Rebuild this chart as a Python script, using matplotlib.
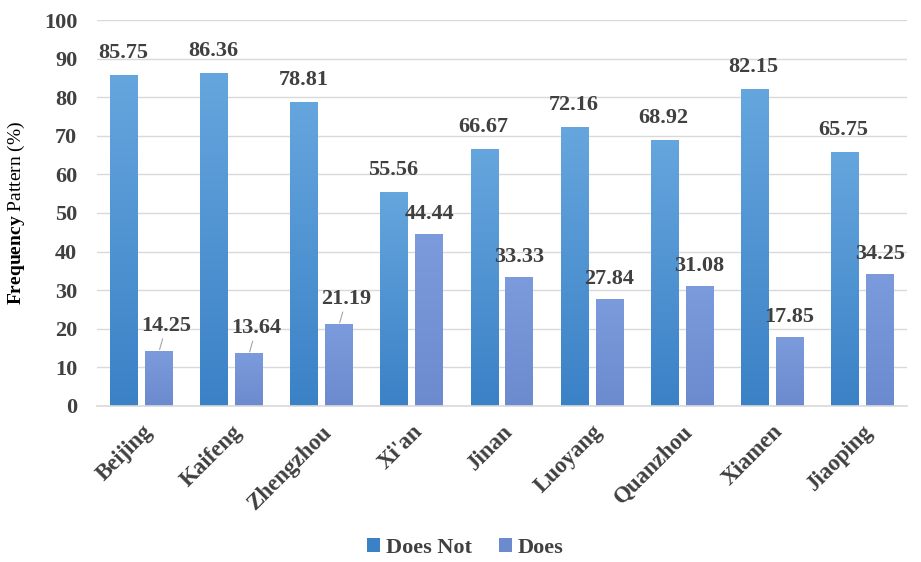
import matplotlib as mpl
import numpy as np

mpl.use("Agg")
import matplotlib.pyplot as plt  # noqa: E402
from matplotlib.colors import LinearSegmentedColormap  # noqa: E402

cities = ["Beijing", "Kaifeng", "Zhengzhou", "Xi'an", "Jinan",
          "Luoyang", "Quanzhou", "Xiamen", "Jiaoping"]
does_not = [85.75, 86.36, 78.81, 55.56, 66.67, 72.16, 68.92, 82.15, 65.75]
does = [14.25, 13.64, 21.19, 44.44, 33.33, 27.84, 31.08, 17.85, 34.25]
# labels of these "Does" bars sit off to the side with a short leader line
leader = [True, True, True, False, False, False, False, False, False]

INK = "#404040"
GRID = "#d9d9d9"
BLUE_TOP = "#66a6de"
BLUE_BOT = "#3b81c6"
LAV_TOP = "#7b9bdc"
LAV_BOT = "#6c8bcf"
FONT = "Liberation Serif"

plt.rcParams.update({
    "font.family": FONT,
    "font.weight": "bold",
    "mathtext.fontset": "custom",
    "mathtext.rm": FONT,
    "mathtext.bf": FONT + ":bold",
})

DPI = 100
PX = 72 / DPI  # points per pixel


def gradient_fill(ax, bars, top, bottom):
    cmap = LinearSegmentedColormap.from_list("g", [bottom, top])
    grad = np.linspace(0, 1, 256).reshape(-1, 1)
    for b in bars:
        x0, w, h = b.get_x(), b.get_width(), b.get_height()
        im = ax.imshow(grad, extent=[x0, x0 + w, 0, h], origin="lower",
                       cmap=cmap, aspect="auto", zorder=b.get_zorder() + 0.1)
        im.set_clip_path(b)


fig = plt.figure(figsize=(9.21, 5.62), dpi=DPI)
ax = fig.add_axes([0.105, 0.2776, 0.88, 0.6868])

x = np.arange(len(cities))
w = 0.31
gap = 0.078
b1 = ax.bar(x - (w + gap) / 2, does_not, w, color=BLUE_BOT, zorder=2,
            label="Does Not")
b2 = ax.bar(x + (w + gap) / 2, does, w, color=LAV_BOT, zorder=2,
            label="Does")
gradient_fill(ax, b1, BLUE_TOP, BLUE_BOT)
gradient_fill(ax, b2, LAV_TOP, LAV_BOT)

lab_kw = dict(textcoords="offset points", ha="center", va="bottom",
              fontsize=16, fontweight="bold", family=FONT, color=INK,
              zorder=5)
for b, v in zip(b1, does_not):
    ax.annotate(f"{v:.2f}", (b.get_x() + b.get_width() / 2, v),
                xytext=(-1 * PX, 12 * PX), **lab_kw)
for b, v, lead in zip(b2, does, leader):
    xc = b.get_x() + b.get_width() / 2
    if lead:
        ax.annotate(f"{v:.2f}", (xc, v), xytext=(7 * PX, 15 * PX),
                    arrowprops=dict(arrowstyle="-", color="#a6a6a6", lw=0.8,
                                    shrinkA=0, shrinkB=1),
                    **lab_kw)
    else:
        ax.annotate(f"{v:.2f}", (xc, v), xytext=(0, 10 * PX), **lab_kw)

ax.set_xlim(-0.5, len(cities) - 0.5)
ax.set_ylim(0, 100)
ax.set_yticks(range(0, 101, 10))
ax.set_xticks(x)
ax.set_xticklabels(cities, rotation=45, ha="right", rotation_mode="anchor",
                   fontsize=16.5, fontweight="bold", family=FONT, color=INK)
ax.tick_params(axis="x", length=0, pad=11)
ax.tick_params(axis="y", length=0, pad=14, labelsize=16, labelcolor=INK)
for t in ax.get_yticklabels():
    t.set_fontweight("bold")
    t.set_family(FONT)

ax.grid(axis="y", color=GRID, lw=1.0, zorder=0)
ax.set_axisbelow(True)
for s in ("top", "right", "left"):
    ax.spines[s].set_visible(False)
ax.spines["bottom"].set_color(GRID)
ax.spines["bottom"].set_linewidth(1.2)

ax.set_ylabel(r"$\mathbf{Frequency}$ Pattern (%)", fontsize=14,
              fontweight="normal", family=FONT, color="black", labelpad=12)

leg = fig.legend(handles=[b1, b2], labels=["Does Not", "Does"],
                 loc="center", bbox_to_anchor=(0.505, 0.025), ncol=2,
                 frameon=False, handlelength=0.6, handleheight=0.6,
                 handletextpad=0.25, columnspacing=1.2,
                 prop=dict(family=FONT, size=16, weight="bold"))
for t in leg.get_texts():
    t.set_color(INK)
leg.legend_handles[0].set_facecolor(BLUE_BOT)
leg.legend_handles[1].set_facecolor(LAV_BOT)

fig.savefig("out.png", dpi=DPI)
